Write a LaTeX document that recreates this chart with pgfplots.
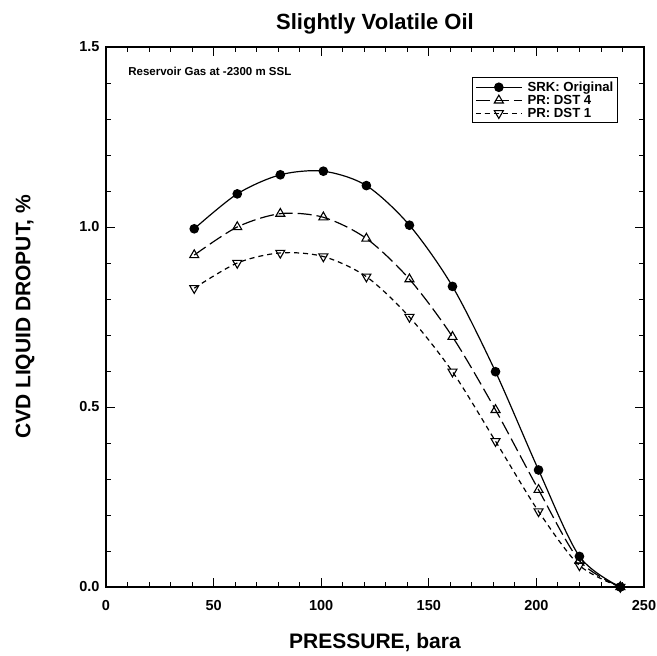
\documentclass[border=0pt]{standalone}
\usepackage{fontspec}
\setmainfont{Liberation Sans}
\usepackage{pgfplots}
\pgfplotsset{compat=1.18}
\begin{document}
\begin{tikzpicture}
\begin{axis}[
  scale only axis,
  width=538bp, height=540bp,
  xmin=0, xmax=250, ymin=0, ymax=1.5,
  xtick={0,50,100,150,200,250},
  ytick={0,0.5,1.0,1.5},
  yticklabel style={/pgf/number format/fixed,/pgf/number format/fixed zerofill,/pgf/number format/precision=1, xshift=-3bp},
  minor x tick num=4, minor y tick num=4,
  major tick length=9bp, minor tick length=5bp,
  tick style={line width=0.9bp, black},
  axis line style={line width=1.1bp},
  /pgf/number format/assume math mode=true,
  ticklabel style={font=\fontsize{14.5bp}{17bp}\selectfont\bfseries},
  xticklabel style={yshift=-10bp},
  xlabel={PRESSURE, bara},
  ylabel={CVD LIQUID DROPUT, \%},
  xlabel style={font=\fontsize{21bp}{24bp}\selectfont\bfseries, yshift=-16bp},
  ylabel style={font=\fontsize{21bp}{24bp}\selectfont\bfseries, yshift=38bp},
  title={Slightly Volatile Oil},
  title style={font=\fontsize{22bp}{26bp}\selectfont\bfseries, yshift=3bp},
  legend style={at={(rel axis cs:0.68,0.944)}, anchor=north west,
    font=\fontsize{13.2bp}{15bp}\selectfont\bfseries, draw=black, line width=0.8bp,
    inner xsep=3bp, inner ysep=3bp,
    nodes={inner sep=1.1bp},
    /tikz/every odd column/.append style={column sep=4bp}},
  legend cell align=left,
  legend image code/.code={\draw[mark repeat=2,mark phase=2] plot coordinates {(0bp,0bp) (23bp,0bp) (46bp,0bp)};},
]
\addplot[black, line width=1.2bp, smooth, mark=*, mark size=4.2bp, mark options={solid}] coordinates {
(41,0.995) (61,1.092) (81,1.145) (101,1.155) (121,1.115) (141,1.005) (161,0.835) (181,0.598) (201,0.325) (220,0.085) (239,0.0)};
\addlegendentry{SRK: Original}
\addplot[black, line width=1.2bp, smooth, dash pattern=on 14bp off 5bp, mark=triangle, mark size=5.2bp, mark options={solid, fill=white, line width=1.1bp}] coordinates {
(41,0.922) (61,1.0) (81,1.037) (101,1.027) (121,0.968) (141,0.855) (161,0.695) (181,0.492) (201,0.27) (220,0.073) (239,0.0)};
\addlegendentry{PR: DST 4}
\addplot[black, line width=1.2bp, smooth, dash pattern=on 5bp off 4bp, mark=triangle, mark size=5.2bp, mark options={solid, fill=white, line width=1.1bp, rotate=180}] coordinates {
(41,0.83) (61,0.9) (81,0.928) (101,0.918) (121,0.862) (141,0.75) (161,0.598) (181,0.405) (201,0.21) (220,0.06) (239,0.0)};
\addlegendentry{PR: DST 1}
\node[anchor=west, font=\fontsize{11.5bp}{13bp}\selectfont\bfseries] at (rel axis cs:0.035,0.954) {Reservoir Gas at -2300 m SSL};
\end{axis}
\pgfresetboundingbox
\useasboundingbox ([xshift=-106bp,yshift=-69bp]current axis.south west) rectangle ([xshift=13bp,yshift=47bp]current axis.north east);
\end{tikzpicture}
\end{document}
